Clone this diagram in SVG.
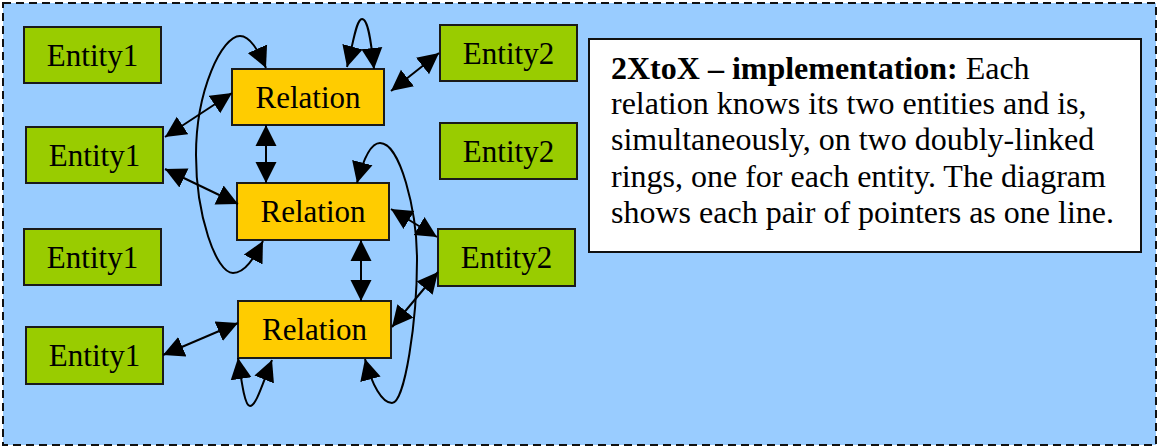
<svg xmlns="http://www.w3.org/2000/svg" width="1158" height="446" viewBox="0 0 1158 446">
  <style>
    .frame { fill: #99CCFF; stroke: #111; stroke-width: 2; stroke-dasharray: 8 5; }
    .entity rect { fill: #99CC00; stroke: #1a1a1a; stroke-width: 2; }
    .relation rect { fill: #FFCC00; stroke: #1a1a1a; stroke-width: 2; }
    .node text { font-family: "Liberation Serif", "Times New Roman", serif; font-size: 31px; fill: #000; text-anchor: middle; }
    .note rect { fill: #FFFFFF; stroke: #111; stroke-width: 2; }
    .note text { font-family: "Liberation Serif", "Times New Roman", serif; font-size: 32px; fill: #000; }
    .note .b { font-weight: bold; }
    .edges path, .edges line { fill: none; stroke: #000; stroke-width: 2; marker-start: url(#ah); marker-end: url(#ah); }
  </style>
  <defs>
    <marker id="ah" viewBox="0 0 21 22" refX="21" refY="11" markerWidth="21" markerHeight="22" markerUnits="userSpaceOnUse" orient="auto-start-reverse">
      <path d="M0,0.5 L21,11 L0,21.5 z" fill="#000"/>
    </marker>
  </defs>

  <!-- dashed background frame -->
  <rect class="frame" x="3" y="3" width="1153" height="442"/>

  <!-- left column: Entity1 -->
  <g id="entity1-a" class="node entity"><rect x="24" y="27" width="137" height="56"/><text x="92.5" y="66">Entity1</text></g>
  <g id="entity1-b" class="node entity"><rect x="26" y="127" width="137" height="56"/><text x="94.5" y="166">Entity1</text></g>
  <g id="entity1-c" class="node entity"><rect x="24" y="229" width="137" height="56"/><text x="92.5" y="268">Entity1</text></g>
  <g id="entity1-d" class="node entity"><rect x="26" y="327" width="137" height="57"/><text x="94.5" y="366">Entity1</text></g>

  <!-- middle column: Relation -->
  <g id="relation-1" class="node relation"><rect x="232" y="69" width="152" height="56"/><text x="308" y="108">Relation</text></g>
  <g id="relation-2" class="node relation"><rect x="237" y="183" width="152" height="57"/><text x="313" y="222">Relation</text></g>
  <g id="relation-3" class="node relation"><rect x="238" y="301" width="153" height="57"/><text x="314.5" y="340">Relation</text></g>

  <!-- right column: Entity2 -->
  <g id="entity2-a" class="node entity"><rect x="440" y="25" width="137" height="56"/><text x="508.5" y="64">Entity2</text></g>
  <g id="entity2-b" class="node entity"><rect x="440" y="123" width="137" height="56"/><text x="508.5" y="162">Entity2</text></g>
  <g id="entity2-c" class="node entity"><rect x="438" y="229" width="137" height="57"/><text x="506.5" y="268">Entity2</text></g>

  <!-- explanation box -->
  <g id="note" class="note">
    <rect x="589" y="39" width="552" height="213"/>
    <text x="611" y="79"><tspan class="b">2XtoX – implementation:</tspan> Each</text>
    <text x="611" y="114">relation knows its two entities and is,</text>
    <text x="611" y="150">simultaneously, on two doubly-linked</text>
    <text x="611" y="187">rings, one for each entity. The diagram</text>
    <text x="611" y="223">shows each pair of pointers as one line.</text>
  </g>

  <!-- connectors: every line is a pair of pointers, arrowheads at both ends -->
  <g id="connectors" class="edges">
    <line x1="165" y1="137" x2="232" y2="93"/>
    <line x1="165" y1="169" x2="238" y2="204"/>
    <line x1="266" y1="125" x2="266" y2="183"/>
    <line x1="361" y1="240" x2="361" y2="301"/>
    <line x1="163" y1="355" x2="238" y2="323"/>
    <line x1="391" y1="91" x2="439" y2="53"/>
    <line x1="391" y1="209" x2="437" y2="237"/>
    <line x1="392" y1="327" x2="438" y2="272"/>
    <!-- ring links -->
    <path d="M347,67 C353,45 356,19 362,19 C368,19 371,40 374,69"/>
    <path d="M238,358 C242,385 245,406 250,406 C256,406 262,385 272,360"/>
    <path d="M266,68 C258,50 250,36 240,36 C222,36 196,90 196,155 C196,215 216,273 233,273 C245,273 254,258 263,241"/>
    <path d="M357,183 C363,160 370,143 380,143 C400,143 417,210 417,260 C417,320 405,403 392,403 C382,403 372,385 365,359"/>
  </g>
</svg>
